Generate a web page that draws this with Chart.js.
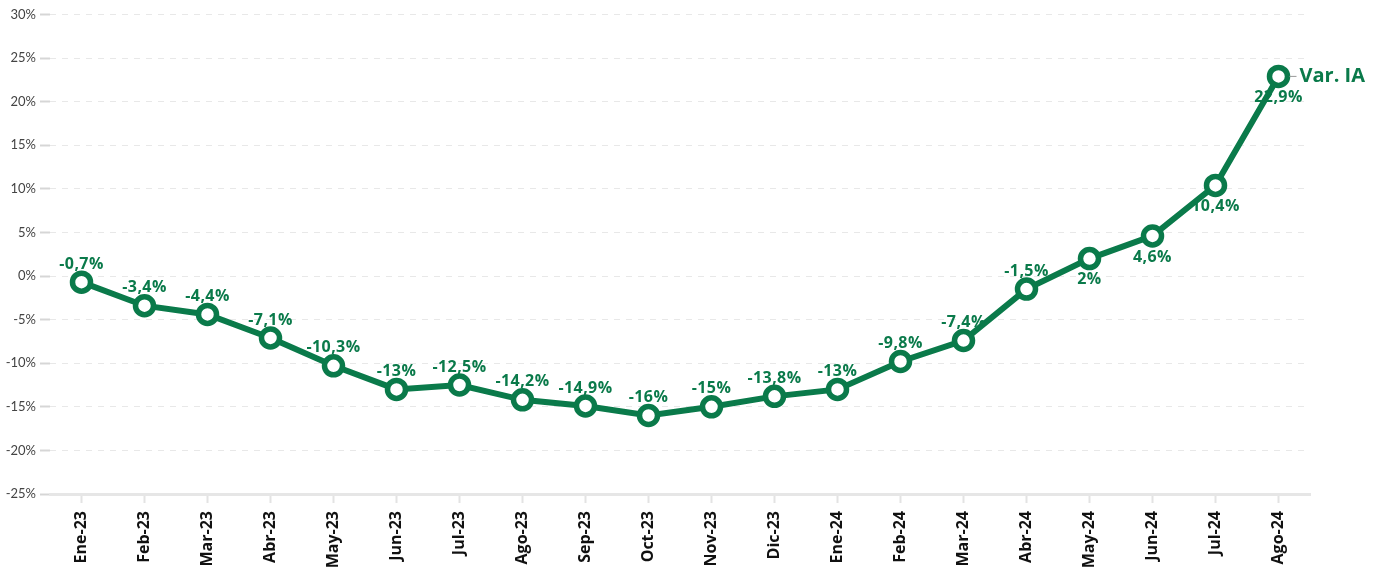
<!DOCTYPE html>
<html>
<head>
<meta charset="utf-8">
<script src="https://cdn.jsdelivr.net/npm/chart.js@4"></script>
<style>
  html, body { margin: 0; padding: 0; background: #fff; }
  #wrap { width: 1378px; height: 576px; }
</style>
</head>
<body>
<div id="wrap"><canvas id="myChart"></canvas></div>
<script>
// meses
const months = ['Ene-23', 'Feb-23', 'Mar-23', 'Abr-23', 'May-23', 'Jun-23', 'Jul-23', 'Ago-23', 'Sep-23', 'Oct-23',
    'Nov-23', 'Dic-23', 'Ene-24', 'Feb-24', 'Mar-24', 'Abr-24', 'May-24', 'Jun-24', 'Jul-24', 'Ago-24'];
// variacion interanual (%)
const varIA = [-0.7, -3.4, -4.4, -7.1, -10.3, -13, -12.5, -14.2, -14.9, -16,
    -15, -13.8, -13, -9.8, -7.4, -1.5, 2, 4.6, 10.4, 22.9];
const seriesName = 'Var. IA';
const yTicks = [-25, -20, -15, -10, -5, 0, 5, 10, 15, 20, 25, 30];

const green = '#0a7a4a';
const fmt = v => String(v).replace('.', ',') + '%';

// etiquetas sobre los puntos + nombre de la serie al final
const labelsPlugin = {
    id: 'pointLabels',
    afterDatasetsDraw(chart) {
        const ctx = chart.ctx;
        const meta = chart.getDatasetMeta(0);
        ctx.save();
        ctx.font = 'bold 16px "Open Sans"';
        ctx.letterSpacing = '0.4px';
        ctx.fillStyle = green;
        ctx.textAlign = 'center';
        ctx.textBaseline = 'middle';
        meta.data.forEach((pt, i) => {
            const below = i >= 16;
            ctx.fillText(fmt(varIA[i]), pt.x, pt.y + (below ? 21 : -18));
        });
        const last = meta.data[meta.data.length - 1];
        ctx.strokeStyle = '#999';
        ctx.lineWidth = 1;
        ctx.beginPath();
        ctx.moveTo(last.x + 11, last.y);
        ctx.lineTo(last.x + 18, last.y);
        ctx.stroke();
        ctx.letterSpacing = '0px';
        ctx.font = 'bold 20px "Open Sans"';
        ctx.textAlign = 'left';
        ctx.fillText(seriesName, last.x + 21, last.y);
        ctx.restore();
    }
};

const ctx = document.getElementById('myChart').getContext('2d');
const myChart = new Chart(ctx, {
    type: 'line',
    data: {
        labels: months,
        datasets: [{
            label: seriesName,
            data: varIA,
            borderColor: green,
            backgroundColor: '#fff',
            borderWidth: 6,
            pointRadius: 9,
            pointBorderWidth: 5.5,
            pointBackgroundColor: '#fff',
            pointBorderColor: green,
            tension: 0,
            fill: false
        }]
    },
    plugins: [labelsPlugin],
    options: {
        responsive: true,
        maintainAspectRatio: false,
        animation: false,
        layout: { padding: { top: 8, right: 68, left: 0, bottom: 0 } },
        plugins: { legend: { display: false }, tooltip: { enabled: false } },
        scales: {
            x: {
                offset: true,
                grid: {
                    drawOnChartArea: false,
                    tickLength: 9,
                    tickColor: '#e3e3e3',
                    tickWidth: 2
                },
                border: { color: '#e6e6e6', width: 3 },
                ticks: {
                    minRotation: 90,
                    maxRotation: 90,
                    color: '#111',
                    font: { family: 'Open Sans', weight: 'bold', size: 16 },
                    padding: 8
                },
                afterFit(scale) { scale.height = 82; }
            },
            y: {
                min: -25,
                max: 30,
                afterBuildTicks(scale) { scale.ticks = yTicks.map(v => ({ value: v })); },
                grid: {
                    color: '#e8e8e8',
                    lineWidth: 1,
                    tickLength: 10,
                    tickColor: '#d6d6d6',
                    tickWidth: 2,
                    tickBorderDash: [],
                },
                border: { display: false, dash: [6, 6] },
                ticks: {
                    color: '#444',
                    font: { family: 'Lato', size: 13 },
                    padding: 4,
                    callback: v => v + '%'
                },
                afterFit(scale) { scale.width = 50; }
            }
        }
    }
});
</script>
</body>
</html>
